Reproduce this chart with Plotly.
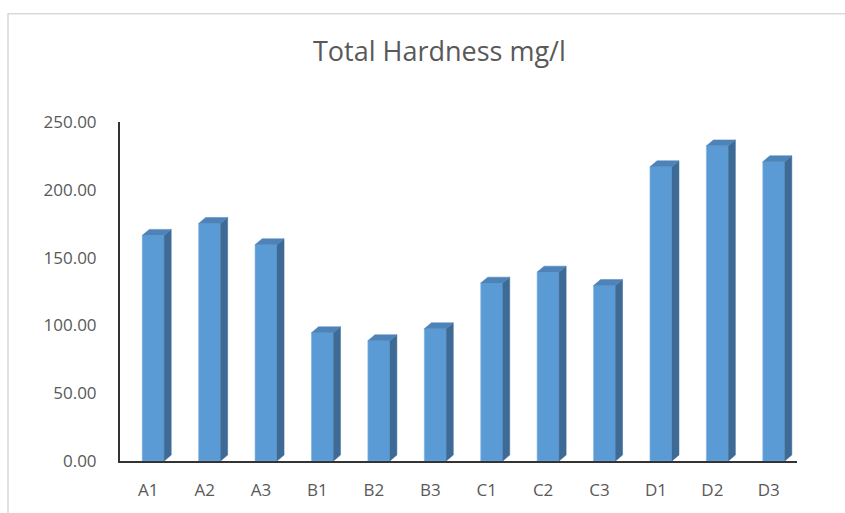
import plotly.graph_objects as go

# Sample sites and measured total hardness (mg/l)
sites = ["A1", "A2", "A3", "B1", "B2", "B3", "C1", "C2", "C3", "D1", "D2", "D3"]
hardness = [166.4, 175.2, 159.5, 94.6, 88.7, 97.5, 131.2, 139.3, 129.4, 217.0, 232.4, 220.7]
y_ticks = [0, 50, 100, 150, 200, 250]

# Pseudo-3D column geometry (in axis units)
FRONT_LEFT = -0.106
FRONT_RIGHT = 0.283
DEPTH_X = 0.125
DEPTH_Y = 4.4

FRONT = "#5b9bd5"
SIDE = "#3e6b96"
TOP = "#4d83b9"

fig = go.Figure()

# Front faces
fig.add_trace(go.Bar(
    x=[i + (FRONT_LEFT + FRONT_RIGHT) / 2 for i in range(len(sites))],
    y=hardness,
    width=FRONT_RIGHT - FRONT_LEFT,
    marker=dict(color=FRONT, line=dict(width=0.6, color="#7fb2e0")),
    hoverinfo="text",
    hovertext=[f"{s}: {v:.2f}" for s, v in zip(sites, hardness)],
    showlegend=False,
))

# Side faces
sx, sy = [], []
for i, v in enumerate(hardness):
    r = i + FRONT_RIGHT
    sx += [r, r + DEPTH_X, r + DEPTH_X, r, r, None]
    sy += [0, DEPTH_Y, v + DEPTH_Y, v, 0, None]
fig.add_trace(go.Scatter(x=sx, y=sy, mode="lines", fill="toself",
                         fillcolor=SIDE, line=dict(width=0.5, color=SIDE),
                         hoverinfo="skip", showlegend=False))

# Top faces
tx, ty = [], []
for i, v in enumerate(hardness):
    l = i + FRONT_LEFT
    r = i + FRONT_RIGHT
    tx += [l, l + DEPTH_X, r + DEPTH_X, r, l, None]
    ty += [v, v + DEPTH_Y, v + DEPTH_Y, v, v, None]
fig.add_trace(go.Scatter(x=tx, y=ty, mode="lines", fill="toself",
                         fillcolor=TOP, line=dict(width=0.5, color=TOP),
                         hoverinfo="skip", showlegend=False))

font_family = "'Open Sans', Lato, sans-serif"

fig.update_layout(
    width=845, height=513,
    margin=dict(l=120, r=48, t=122, b=50),
    paper_bgcolor="white",
    plot_bgcolor="white",
    title=dict(text="Total Hardness mg/l", x=0.52, xanchor="center",
               y=1 - 52 / 513, yanchor="middle",
               font=dict(family=font_family, size=27, color="#595959")),
    xaxis=dict(
        range=[-0.5, 11.5],
        tickmode="array", tickvals=list(range(len(sites))), ticktext=sites,
        showgrid=False, zeroline=False,
        showline=True, linecolor="#333333", linewidth=2,
        ticks="", ticklabelstandoff=13,
        tickfont=dict(family=font_family, size=17, color="#595959"),
        fixedrange=True,
    ),
    yaxis=dict(
        range=[0, 250],
        tickmode="array", tickvals=y_ticks, tickformat=".2f",
        showgrid=False, zeroline=False,
        showline=True, linecolor="#333333", linewidth=2,
        ticks="", ticklabelstandoff=18,
        tickfont=dict(family=font_family, size=17, color="#595959"),
        fixedrange=True,
    ),
    shapes=[dict(
        type="rect", xref="paper", yref="paper",
        x0=(8 - 120) / 677, x1=(852 - 120) / 677,
        y0=(463 - 520) / 341, y1=(463 - 13) / 341,
        line=dict(color="#d9d9d9", width=1.5), layer="below",
    )],
)

fig.write_html("out.html")
